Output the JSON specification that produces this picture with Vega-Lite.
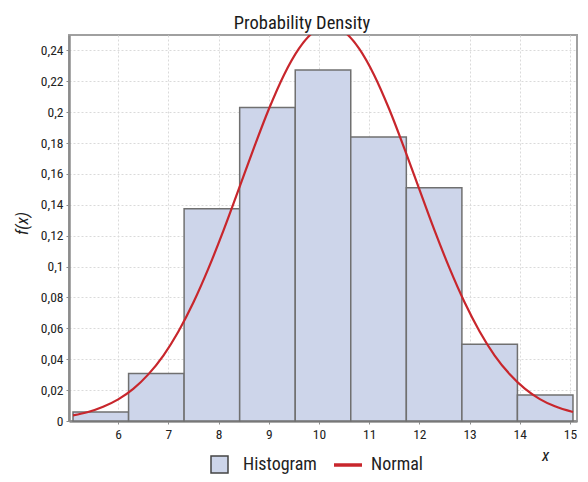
{
  "$schema": "https://vega.github.io/schema/vega-lite/v6.json",
  "width": 508,
  "height": 386,
  "autosize": {"type": "none"},
  "padding": {"left": 69, "top": 35, "right": 11, "bottom": 61},
  "background": "white",
  "title": {
    "text": "Probability Density",
    "anchor": "middle",
    "dx": -21,
    "dy": 19,
    "offset": 7,
    "baseline": "alphabetic",
    "font": "Roboto Condensed, Liberation Sans Narrow, Liberation Sans, sans-serif",
    "fontSize": 18.5,
    "fontWeight": "normal",
    "color": "#1a1a1a"
  },
  "config": {
    "view": {"stroke": "#a0a0a0", "strokeWidth": 2},
    "axis": {
      "labelFont": "Roboto Condensed, Liberation Sans Narrow, Liberation Sans, sans-serif",
      "titleFont": "Roboto Condensed, Liberation Sans Narrow, Liberation Sans, sans-serif",
      "labelFontSize": 13.5,
      "labelColor": "#222222",
      "titleColor": "#222222",
      "titleFontWeight": "normal",
      "titleFontStyle": "italic",
      "titleFontSize": 17,
      "tickSize": 3,
      "tickColor": "#8c8c8c",
      "labelPadding": 3,
      "labelOverlap": false,
      "domainColor": "#8c8c8c",
      "domainWidth": 2.5,
      "grid": true,
      "gridColor": "#dadada",
      "gridDash": [2, 2]
    },
    "legend": {
      "labelFont": "Roboto Condensed, Liberation Sans Narrow, Liberation Sans, sans-serif",
      "labelFontSize": 18,
      "labelColor": "#222222"
    }
  },
  "datasets": {
    "bins": [
      {"x": 5.1, "x_end": 6.207, "f": 0.0058, "series": "Histogram"},
      {"x": 6.207, "x_end": 7.313, "f": 0.0308, "series": "Histogram"},
      {"x": 7.313, "x_end": 8.42, "f": 0.1374, "series": "Histogram"},
      {"x": 8.42, "x_end": 9.527, "f": 0.2031, "series": "Histogram"},
      {"x": 9.527, "x_end": 10.633, "f": 0.2274, "series": "Histogram"},
      {"x": 10.633, "x_end": 11.74, "f": 0.1839, "series": "Histogram"},
      {"x": 11.74, "x_end": 12.847, "f": 0.151, "series": "Histogram"},
      {"x": 12.847, "x_end": 13.953, "f": 0.0497, "series": "Histogram"},
      {"x": 13.953, "x_end": 15.06, "f": 0.0169, "series": "Histogram"}
    ],
    "curve": [
      {"x": 5.1, "f": 0.0036, "series": "Normal"},
      {"x": 5.4, "f": 0.0058, "series": "Normal"},
      {"x": 5.7, "f": 0.0092, "series": "Normal"},
      {"x": 6.0, "f": 0.014, "series": "Normal"},
      {"x": 6.3, "f": 0.0208, "series": "Normal"},
      {"x": 6.6, "f": 0.0302, "series": "Normal"},
      {"x": 6.9, "f": 0.0424, "series": "Normal"},
      {"x": 7.2, "f": 0.058, "series": "Normal"},
      {"x": 7.5, "f": 0.0769, "series": "Normal"},
      {"x": 7.8, "f": 0.099, "series": "Normal"},
      {"x": 8.1, "f": 0.1236, "series": "Normal"},
      {"x": 8.4, "f": 0.15, "series": "Normal"},
      {"x": 8.7, "f": 0.1766, "series": "Normal"},
      {"x": 9.0, "f": 0.2019, "series": "Normal"},
      {"x": 9.3, "f": 0.224, "series": "Normal"},
      {"x": 9.6, "f": 0.2412, "series": "Normal"},
      {"x": 9.9, "f": 0.2522, "series": "Normal"},
      {"x": 10.2, "f": 0.256, "series": "Normal"},
      {"x": 10.5, "f": 0.2522, "series": "Normal"},
      {"x": 10.8, "f": 0.2412, "series": "Normal"},
      {"x": 11.1, "f": 0.224, "series": "Normal"},
      {"x": 11.4, "f": 0.2019, "series": "Normal"},
      {"x": 11.7, "f": 0.1766, "series": "Normal"},
      {"x": 12.0, "f": 0.15, "series": "Normal"},
      {"x": 12.3, "f": 0.1236, "series": "Normal"},
      {"x": 12.6, "f": 0.099, "series": "Normal"},
      {"x": 12.9, "f": 0.0769, "series": "Normal"},
      {"x": 13.2, "f": 0.058, "series": "Normal"},
      {"x": 13.5, "f": 0.0424, "series": "Normal"},
      {"x": 13.8, "f": 0.0303, "series": "Normal"},
      {"x": 14.1, "f": 0.021, "series": "Normal"},
      {"x": 14.4, "f": 0.0142, "series": "Normal"},
      {"x": 14.7, "f": 0.0095, "series": "Normal"},
      {"x": 15.06, "f": 0.0058, "series": "Normal"}
    ]
  },
  "encoding": {
    "x": {
      "field": "x",
      "type": "quantitative",
      "scale": {"domain": [5.02, 15.14], "nice": false, "zero": false},
      "axis": {
        "values": [6, 7, 8, 9, 10, 11, 12, 13, 14, 15],
        "title": "x",
        "titleX": 476,
        "titleY": 34,
        "titleAlign": "center",
        "titleBaseline": "middle",
        "labelFlush": false,
        "labelOverlap": false
      }
    },
    "y": {
      "field": "f",
      "type": "quantitative",
      "scale": {"domain": [0, 0.25], "nice": false},
      "axis": {
        "values": [0, 0.02, 0.04, 0.06, 0.08, 0.1, 0.12, 0.14, 0.16, 0.18, 0.2, 0.22, 0.24],
        "labelExpr": "replace(format(datum.value, '.2~f'), '.', ',')",
        "labelOverlap": false,
        "labelBound": false,
        "title": "f(x)",
        "titleX": -47,
        "titleY": 188,
        "titleAngle": -90,
        "titleAlign": "center",
        "titleBaseline": "middle"
      }
    }
  },
  "layer": [
    {
      "data": {"name": "bins"},
      "mark": {"type": "bar", "stroke": "#707070", "strokeWidth": 1.5},
      "encoding": {
        "x2": {"field": "x_end"},
        "y2": {"datum": 0},
        "fill": {
          "field": "series",
          "type": "nominal",
          "scale": {"domain": ["Histogram"], "range": ["#cdd5ea"]},
          "legend": {
            "orient": "none",
            "legendX": 141,
            "legendY": 420,
            "title": null,
            "symbolType": "square",
            "symbolSize": 289,
            "symbolStrokeColor": "#444444",
            "symbolStrokeWidth": 1.5,
            "symbolOpacity": 1,
            "labelOffset": 14
          }
        }
      }
    },
    {
      "data": {"name": "curve"},
      "mark": {"type": "line", "clip": true, "interpolate": "monotone", "strokeWidth": 2.2},
      "encoding": {
        "stroke": {
          "field": "series",
          "type": "nominal",
          "scale": {"domain": ["Normal"], "range": ["#c8262c"]},
          "legend": {
            "orient": "none",
            "legendX": 263,
            "legendY": 414,
            "title": null,
            "symbolType": "stroke",
            "symbolSize": 784,
            "symbolStrokeWidth": 3.5,
            "labelOffset": 7
          }
        }
      }
    }
  ]
}
